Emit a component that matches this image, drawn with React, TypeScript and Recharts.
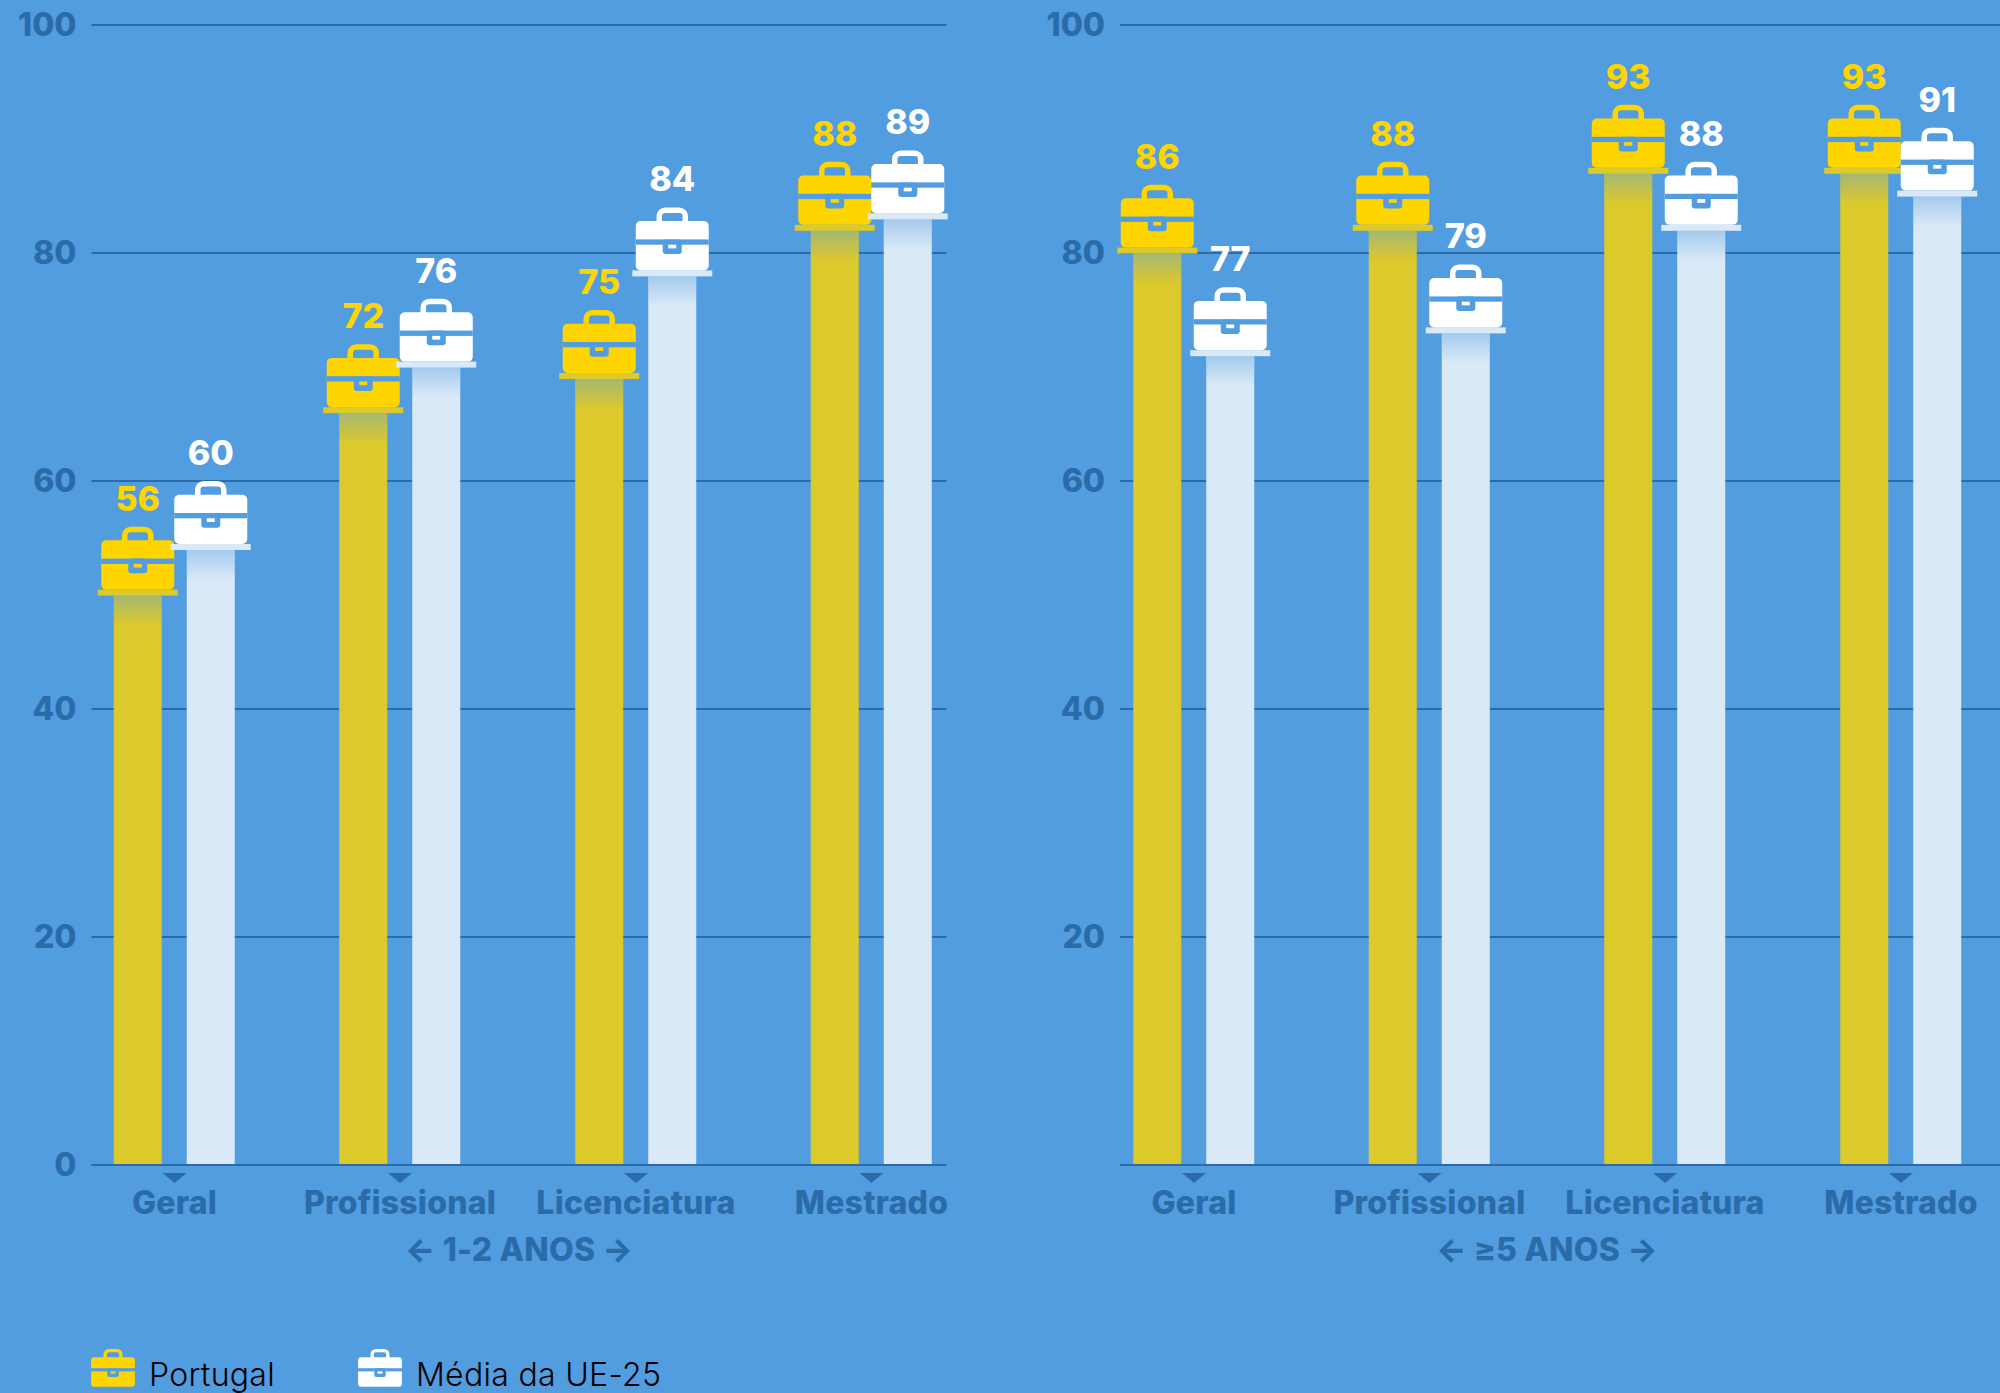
import React from "react";
import { BarChart, Bar, XAxis, YAxis, CartesianGrid, LabelList, Legend, Label } from "recharts";

// ---- data ----
const categories = ["Geral", "Profissional", "Licenciatura", "Mestrado"];
const portugalShort = [56, 72, 75, 88];
const euShort = [60, 76, 84, 89];
const portugalLong = [86, 88, 93, 93];
const euLong = [77, 79, 88, 91];
const yTicksLeft = [0, 20, 40, 60, 80, 100];
const yTicksRight = [20, 40, 60, 80, 100];
const seriesNames = ["Portugal", "Média da UE-25"];
const panelTitles = ["← 1-2 ANOS →", "← ≥5 ANOS →"];

// ---- layout and style ----
const leftCenters = [174.5, 400, 636, 871.5];
const rightCenters = [1194, 1429.5, 1665, 1901];
const BG = "#529DE0";
const YELLOW = "#FFD500";
const YELLOW_BAR = "#DCC92B";
const WHITE = "#FFFFFF";
const WHITE_BAR = "#DAE9F7";
const AXIS = "#2A6BA8";
const FONT = "Inter, sans-serif";

const Briefcase = ({ cx, top, color, s = 1 }: { cx: number; top: number; color: string; s?: number }) => (
  <g transform={`translate(${cx} ${top}) scale(${s})`}>
    <rect x={-13} y={2.8} width={26} height={18} rx={6} fill="none" stroke={color} strokeWidth={5.5} />
    <rect x={-36.5} y={13.7} width={73} height={49.3} rx={5} fill={color} />
    <rect x={-36.5} y={32} width={73} height={5.3} fill={BG} />
    <rect x={-9.5} y={32} width={19} height={14.7} rx={3} fill={BG} />
    <rect x={-4} y={37.3} width={8} height={3.7} fill={color} />
  </g>
);

const makeShape = (icon: string, bar: string) => (props: any) => {
  const { x, y, width, height } = props;
  const cx = x + width / 2;
  const barTop = y + 69;
  const barH = Math.max(0, height - 69);
  return (
    <g>
      <rect x={x} y={barTop} width={width} height={barH} fill={bar} />
      <rect x={x} y={barTop} width={width} height={30} fill="url(#fade)" />
      <rect x={cx - 40} y={y + 63} width={80} height={6} fill={bar} />
      <Briefcase cx={cx} top={y} color={icon} />
    </g>
  );
};
const portugalShape = makeShape(YELLOW, YELLOW_BAR);
const euShape = makeShape(WHITE, WHITE_BAR);

const CategoryTick = ({ x, y, payload, centers }: any) => {
  const i = centers.indexOf(payload.value);
  return (
    <g>
      <path d={`M${x - 12} ${y} L${x + 12} ${y} L${x} ${y + 10} Z`} fill={AXIS} />
      <text x={x} y={1214} textAnchor="middle" fontFamily={FONT} fontWeight={800} fontSize={32} letterSpacing={0.2} fill={AXIS}>
        {categories[i]}
      </text>
    </g>
  );
};

const LegendContent = () => (
  <div style={{ position: "relative", width: 700, height: 50 }}>
    {seriesNames.map((name, i) => (
      <div key={name} style={{ position: "absolute", left: i === 0 ? 0 : 267, top: 0, display: "flex" }}>
        <svg width={44} height={40} style={{ display: "block" }}>
          <Briefcase cx={22} top={1} color={i === 0 ? YELLOW : WHITE} s={0.6} />
        </svg>
        <span style={{ marginLeft: 14, marginTop: 5, fontFamily: FONT, fontWeight: 300, fontSize: 32, letterSpacing: 0.3, lineHeight: "44px", color: "#000", whiteSpace: "nowrap" }}>{name}</span>
      </div>
    ))}
  </div>
);

const Panel = ({ pt, eu, centers, yTicks, title, domain, yWidth, right, showLegend, titleDx }: any) => {
  const rows = categories.map((c, i) => ({ category: c, pos: centers[i], portugal: pt[i], eu: eu[i] }));
  return (
    <BarChart
      width={1000}
      height={1393}
      data={rows}
      barSize={48}
      barGap={25}
      margin={{ top: 25, right, bottom: 0, left: 0 }}
    >
      <defs>
        <linearGradient id="fade" x1="0" y1="0" x2="0" y2="1">
          <stop offset="0" stopColor={BG} stopOpacity={0.4} />
          <stop offset="1" stopColor={BG} stopOpacity={0} />
        </linearGradient>
      </defs>
      <CartesianGrid vertical={false} stroke={AXIS} strokeWidth={2} />
      <XAxis
        dataKey="pos"
        type="number"
        domain={domain}
        ticks={centers}
        interval={0}
        height={228}
        tickLine={false}
        axisLine={{ stroke: AXIS, strokeWidth: 2 }}
        tick={<CategoryTick centers={centers} />}
      >
        <Label
          value={title}
          position="insideBottom"
          offset={132}
          dx={titleDx}
          style={{ fontFamily: FONT, fontWeight: 800, fontSize: 32, letterSpacing: 0.2, fill: AXIS }}
        />
      </XAxis>
      <YAxis
        type="number"
        domain={[0, 100]}
        ticks={yTicks}
        interval={0}
        width={yWidth}
        tickLine={false}
        axisLine={false}
        tickSize={0}
        tickMargin={15}
        tick={{ fontFamily: FONT, fontWeight: 800, fontSize: 32, fill: AXIS }}
      />
      <Bar dataKey="portugal" name={seriesNames[0]} shape={portugalShape} isAnimationActive={false}>
        <LabelList dataKey="portugal" position="top" offset={16} style={{ fontFamily: FONT, fontWeight: 800, fontSize: 34, fill: YELLOW }} />
      </Bar>
      <Bar dataKey="eu" name={seriesNames[1]} shape={euShape} isAnimationActive={false}>
        <LabelList dataKey="eu" position="top" offset={16} style={{ fontFamily: FONT, fontWeight: 800, fontSize: 34, fill: WHITE }} />
      </Bar>
      {showLegend && (
        <Legend
          layout="horizontal"
          verticalAlign="middle"
          content={<LegendContent />}
          wrapperStyle={{ position: "absolute", left: 91, top: 1348, width: 700, height: 45, bottom: "auto", margin: 0 }}
        />
      )}
    </BarChart>
  );
};

export default function App() {
  return (
    <div style={{ position: "absolute", left: 0, top: 0, width: 2000, height: 1393, background: BG, overflow: "hidden" }}>
      <div style={{ position: "absolute", left: 0, top: 0 }}>
        <Panel pt={portugalShort} eu={euShort} centers={leftCenters} yTicks={yTicksLeft} title={panelTitles[0]}
          domain={[91.5, 946.5]} yWidth={91.5} right={53.5} showLegend titleDx={0} />
      </div>
      <div style={{ position: "absolute", left: 1000, top: 0 }}>
        <Panel pt={portugalLong} eu={euLong} centers={rightCenters} yTicks={yTicksRight} title={panelTitles[1]}
          domain={[1120, 2000]} yWidth={120} right={0} titleDx={-13} />
      </div>
    </div>
  );
}
